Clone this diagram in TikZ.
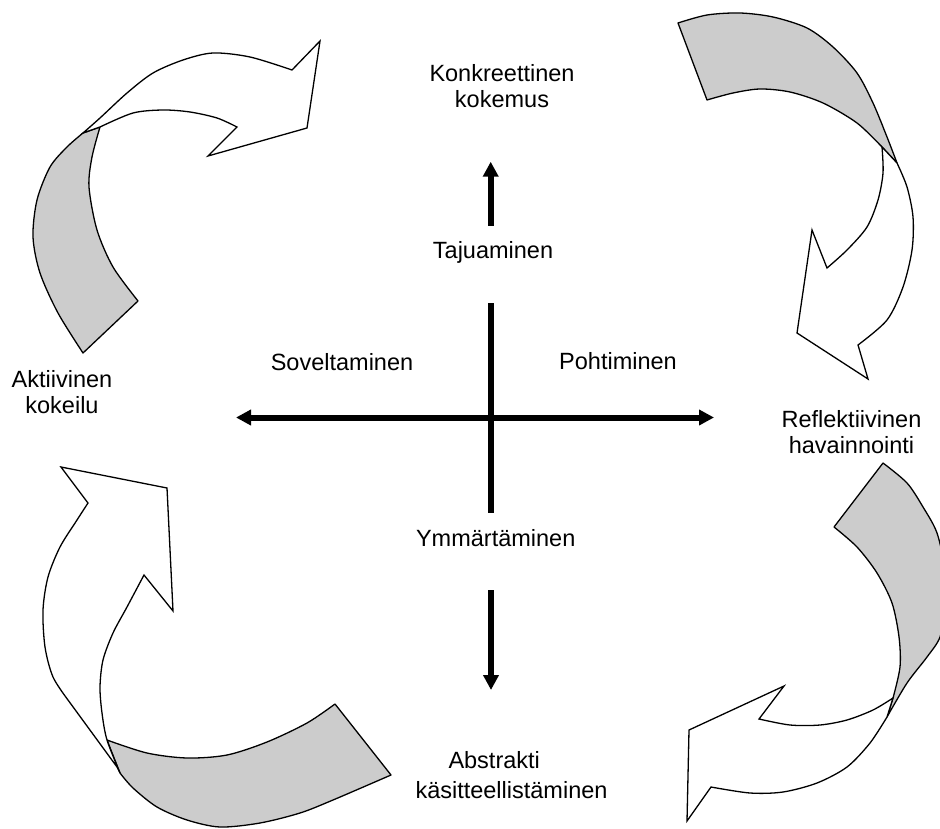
\documentclass[tikz,border=0pt]{standalone}
\usepackage{fontspec}
\setmainfont{Liberation Sans}
\usetikzlibrary{arrows.meta}
\definecolor{ribbon}{RGB}{204,204,204}
\begin{document}
\begin{tikzpicture}[x=0.5pt,y=-0.5pt,
  lbl/.style={font=\fontsize{11.75}{13}\selectfont, inner sep=0pt, align=center, anchor=base},
  axisline/.style={line width=3pt},
  tip/.style={-{Triangle[length=7.5pt,width=7.5pt]}},
  back/.style={fill=ribbon, draw=black, line width=0.65pt, line join=round},
  front/.style={fill=white, draw=black, line width=0.65pt, line join=miter},
]
\useasboundingbox (0,0) rectangle (940,828);

% ---- top-left curved arrow
\path[back] plot[smooth] coordinates {(83,353) (58,313) (40,273) (33,237) (37,200) (50,167) (67,147) (83,133)}
  -- (100,127) -- plot[smooth] coordinates {(100,127) (92,157) (89,187) (97,230) (113,267) (138,301)} -- cycle;
\path[front] plot[smooth] coordinates {(83,133) (100,118) (127,93) (153,73) (183,60) (213,53) (250,57) (292,70)}
  -- (320,41) -- (307,128) -- (208,156) -- (237,127)
  -- plot[smooth] coordinates {(237,127) (217,118) (190,112) (163,110) (133,113) (100,127)} -- cycle;

% ---- top-right curved arrow
\path[back] plot[smooth] coordinates {(678,23) (707,15) (740,13) (773,17) (807,28) (833,47) (857,73) (873,103) (887,137) (897,163)}
  -- (882,147) -- plot[smooth] coordinates {(882,147) (857,123) (823,103) (790,92) (760,89) (733,93) (707,100)} -- cycle;
\path[front] (882,147) -- (897,163)
  -- plot[smooth] coordinates {(897,163) (907,187) (913,217) (912,250) (903,287) (887,320) (858,345)}
  -- (868,379) -- (797,333) -- (812,230) -- (827,268)
  -- plot[smooth] coordinates {(827,268) (847,250) (867,227) (878,200) (883,173) (882,147)} -- cycle;

% ---- bottom-left curved arrow
\path[back] plot[smooth] coordinates {(107,740) (147,753) (187,758) (227,755) (267,742) (307,723) (335,704)}
  -- (391,775) -- plot[smooth] coordinates {(391,775) (333,800) (300,813) (260,823) (220,827) (187,820) (157,807) (133,788) (120,773)} -- cycle;
\path[front] (144,575) -- (173,611) -- (167,488) -- (61,467) -- (88,503)
  -- plot[smooth] coordinates {(88,503) (77,520) (60,547) (48,577) (43,610) (45,647) (53,677) (68,700)}
  -- (117,767) -- (120,773)
  -- plot[smooth] coordinates {(120,773) (107,740) (102,713) (100,687) (103,660) (113,633) (127,607) (144,575)} -- cycle;

% ---- bottom-right curved arrow
\begin{scope}
\clip (0,0) rectangle (940,828);
\path[back] plot[smooth] coordinates {(883,463) (907,483) (923,507) (937,533) (945,570) (946,605) (940,637) (927,657) (907,683) (887,717)}
  -- (893,698) -- plot[smooth] coordinates {(893,698) (900,667) (899,637) (892,603) (877,573) (857,547) (834,527)} -- cycle;
\end{scope}
\path[front] (893,698) -- (887,717)
  -- plot[smooth] coordinates {(887,717) (870,743) (847,767) (817,783) (783,792) (750,793) (711,787)}
  -- (687,821) -- (689,730) -- (784,686) -- (759,719)
  -- plot[smooth] coordinates {(759,719) (790,725) (820,725) (847,720) (873,710) (893,698)} -- cycle;

% ---- labels (base anchor = baseline of the last line)
\node[lbl] (konk) at (502,108) {Konkreettinen\\kokemus};
\node[lbl] (taju) at (493,258) {Tajuaminen};
\node[lbl] (sove) at (342,370) {Soveltaminen};
\node[lbl] (poht) at (618,369) {Pohtiminen};
\node[lbl] (akti) at (62,413) {Aktiivinen\\kokeilu};
\node[lbl] (refl) at (851.5,453) {Reflektiivinen\\havainnointi};
\node[lbl] (ymma) at (495.7,546) {Ymmärtäminen};
\node[lbl, align=left] (abst) at (511.5,798) {\hspace*{16.5pt}Abstrakti\\[2pt]käsitteellistäminen};

% ---- axes
\coordinate (upS) at (490.7,226);
\coordinate (upE) at (490.7,161.7);
\coordinate (vT) at (490.7,303);
\coordinate (vB) at (490.7,513);
\coordinate (hL) at (236,417.5);
\coordinate (hR) at (714,417.5);
\coordinate (dnS) at (491,590);
\coordinate (dnE) at (491,690);
\draw[axisline, tip] (upS) -- (upE);
\draw[axisline] (vT) -- (vB);
\draw[axisline, {Triangle[length=7.5pt,width=7.5pt]}-{Triangle[length=7.5pt,width=7.5pt]}] (hL) -- (hR);
\draw[axisline, tip] (dnS) -- (dnE);
\end{tikzpicture}
\end{document}
